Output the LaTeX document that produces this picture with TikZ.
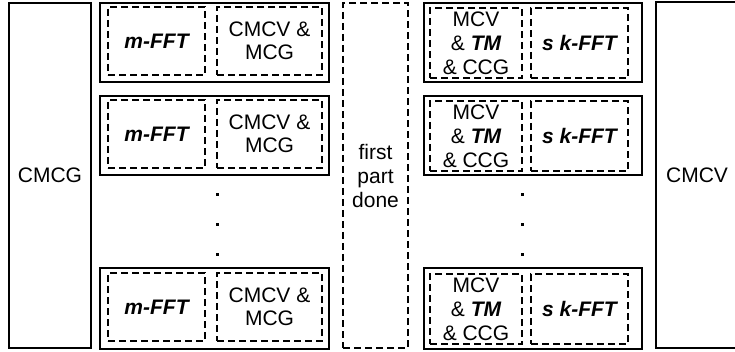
\documentclass[tikz,border=0pt]{standalone}
\usepackage{fontspec}
\setmainfont{Liberation Sans}
\newcommand{\bix}[1]{{\bfseries\itshape #1}}
\begin{document}
\begin{tikzpicture}[x=1pt,y=-1pt,
  txt/.style={inner sep=0pt, align=center, font=\fontsize{21}{23}\selectfont},
  solidbox/.style={txt, draw, line width=1.4pt},
  dashbox/.style={txt, draw, line width=1.3pt, dash pattern=on 7pt off 4pt},
  dotmark/.style={rectangle, fill, inner sep=0pt, minimum size=3pt}]
\useasboundingbox (0,0) rectangle (735,352);
% side boxes
\node[solidbox, minimum width=82pt, minimum height=345pt] (cmcg) at (50,175.5) {CMCG};
\node[solidbox, minimum width=82pt, minimum height=346pt] (cmcv) at (697,175) {CMCV};
\node[dashbox, minimum width=65pt, minimum height=345pt, font=\fontsize{21}{24}\selectfont] (done) at (375.5,175.5) {first\\part\\done};
% rows
\foreach \i/\rc/\rh in {1/42.5/79, 2/135.5/79, 3/308.5/81}{
  \node[solidbox, minimum width=229pt, minimum height=\rh pt] (lrow\i) at (214.5,\rc) {};
  \node[dashbox, minimum width=97pt, minimum height=68pt] (lfft\i) at (156.5,\rc-1.5) {\bix{m-FFT}};
  \node[dashbox, minimum width=105pt, minimum height=68pt] (lmcg\i) at (269.5,\rc-1.5) {CMCV \&\\MCG};
  \node[solidbox, minimum width=218pt, minimum height=\rh pt] (rrow\i) at (533,\rc) {};
  \node[dashbox, minimum width=92pt, minimum height=70pt, font=\fontsize{21}{24}\selectfont] (rtm\i) at (476,\rc+0.5) {MCV\\\& \bix{TM}\\\& CCG};
  \node[dashbox, minimum width=97pt, minimum height=70pt] (rfft\i) at (579.5,\rc+0.5) {\bix{s k-FFT}};
}
% vertical ellipses
\foreach \j/\y in {1/195, 2/225, 3/255}{
  \node[dotmark] (ldot\j) at (217,\y) {};
  \node[dotmark] (rdot\j) at (522,\y) {};
}
\end{tikzpicture}
\end{document}
